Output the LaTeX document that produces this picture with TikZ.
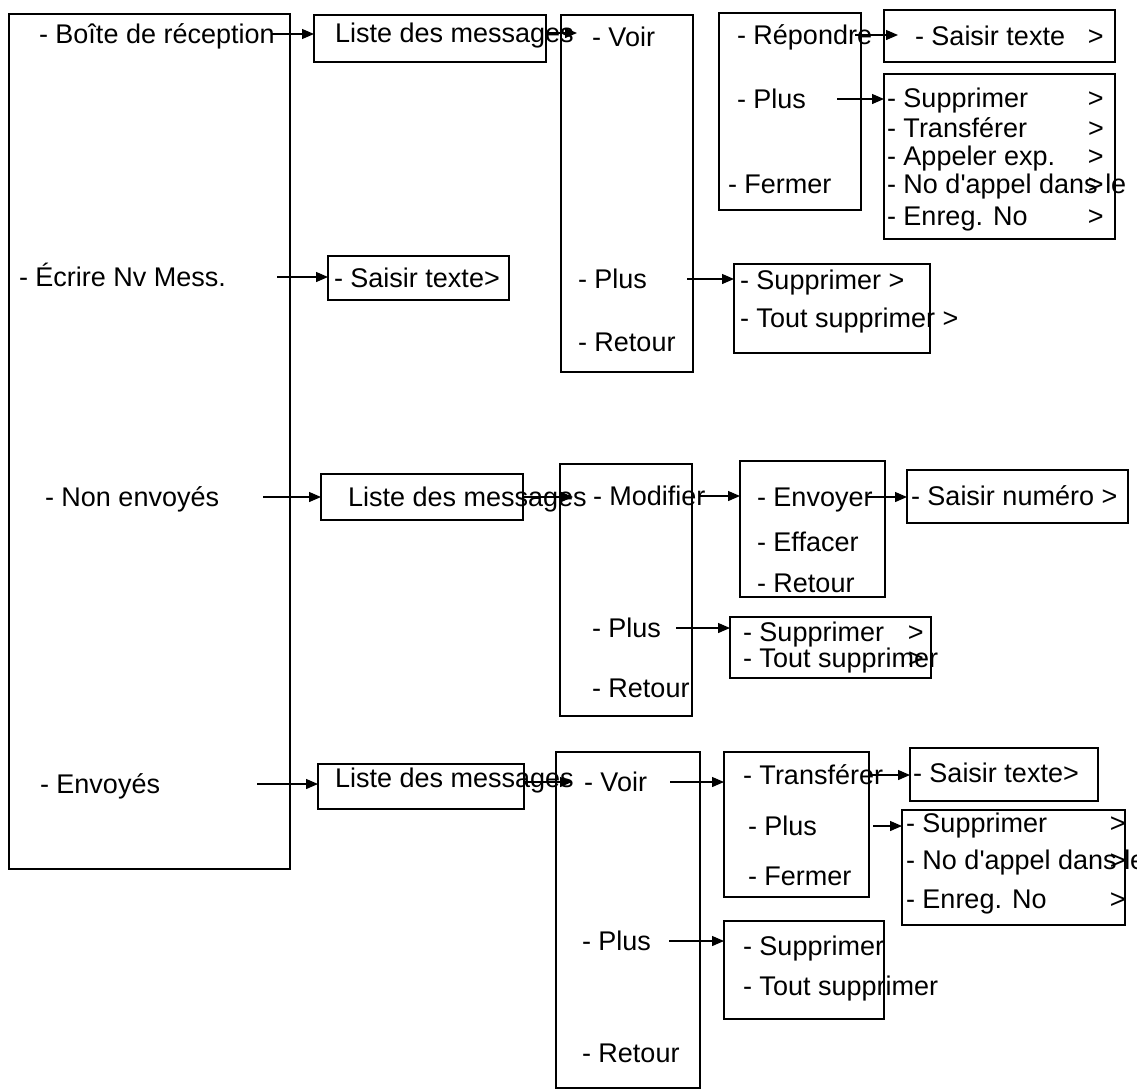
\documentclass[tikz,border=0pt]{standalone}
\usepackage{fontspec}
\setmainfont{Liberation Sans}[Ligatures=TeXOff]
\usetikzlibrary{arrows.meta}
\tikzset{
  box/.style={draw, line width=2pt, inner sep=0pt, outer sep=0pt, rectangle},
  txt/.style={inner sep=0pt, outer sep=0pt, anchor=west, text height=19.4pt, text depth=0pt},
  arr/.style={line width=1.3pt, -{Triangle[length=12pt,width=10pt]}},
}
\newcommand\mybox[5]{\node[box,anchor=north west,minimum width=#4pt-#2pt,minimum height=#5pt-#3pt] (#1) at (#2,#3) {};}
\newcommand\tx[4]{\node[txt] (#1) at (#2,#3) {#4};}
\begin{document}
\begin{tikzpicture}[x=1pt,y=-1pt,font=\fontsize{27}{30}\selectfont]
\useasboundingbox (0,0) rectangle (1137,1090);
\fill[white] (0,0) rectangle (1137,1090);
% boxes
\mybox{A}{9}{14}{290}{869}
\mybox{L1}{314}{15}{546}{62}
\mybox{B1}{561}{15}{693}{372}
\mybox{C1}{719}{13}{861}{210}
\mybox{S1}{884}{10}{1115}{62}
\mybox{P1}{884}{74}{1115}{239}
\mybox{S2}{328}{256}{509}{300}
\mybox{D1}{734}{264}{930}{353}
\mybox{L2}{321}{474}{523}{520}
\mybox{B2}{560}{464}{692}{716}
\mybox{C2}{740}{461}{885}{597}
\mybox{S3}{907}{470}{1128}{523}
\mybox{D2}{730}{617}{931}{678}
\mybox{L3}{318}{764}{524}{809}
\mybox{B3}{556}{752}{700}{1088}
\mybox{C3}{724}{752}{869}{897}
\mybox{S4}{910}{748}{1098}{801}
\mybox{P3}{902}{810}{1125}{925}
\mybox{D3}{724}{921}{884}{1019}
% texts
\tx{tA1}{39}{34}{- Boîte de réception}
\tx{tA2}{19}{277}{- Écrire Nv Mess.}
\tx{tA3}{45}{497}{- Non envoyés}
\tx{tA4}{40}{784}{- Envoyés}
\tx{tL1}{335}{33}{Liste des messages}
\tx{tB1a}{592}{37}{- Voir}
\tx{tB1b}{578}{279}{- Plus}
\tx{tB1c}{578}{342}{- Retour}
\tx{tC1a}{737}{35}{- Répondre}
\tx{tC1b}{737}{99}{- Plus}
\tx{tC1c}{728}{184}{- Fermer}
\tx{tS1}{915}{36}{\makebox[173pt][l]{- Saisir texte}>}
\tx{tP1a}{887}{98}{\makebox[201pt][l]{- Supprimer}>}
\tx{tP1b}{887}{128}{\makebox[201pt][l]{- Transférer}>}
\tx{tP1c}{887}{156}{\makebox[201pt][l]{- Appeler exp.}>}
\tx{tP1d}{887}{184}{\makebox[201pt][l]{- No d'appel dans le}>}
\tx{tP1e}{887}{216}{\makebox[201pt][l]{- Enreg. No}>}
\tx{tS2}{334}{278}{- Saisir texte>}
\tx{tD1a}{740}{280}{- Supprimer >}
\tx{tD1b}{740}{318}{- Tout supprimer >}
\tx{tL2}{348}{497}{Liste des messages}
\tx{tB2a}{593}{496}{- Modifier}
\tx{tB2b}{592}{628}{- Plus}
\tx{tB2c}{592}{688}{- Retour}
\tx{tC2a}{757}{497}{- Envoyer}
\tx{tC2b}{757}{542}{- Effacer}
\tx{tC2c}{757}{583}{- Retour}
\tx{tS3}{911}{496}{- Saisir numéro >}
\tx{tD2a}{743}{632}{\makebox[165pt][l]{- Supprimer}>}
\tx{tD2b}{743}{658}{\makebox[165pt][l]{- Tout supprimer}>}
\tx{tL3}{335}{778}{Liste des messages}
\tx{tB3a}{584}{782}{- Voir}
\tx{tB3b}{582}{941}{- Plus}
\tx{tB3c}{582}{1053}{- Retour}
\tx{tC3a}{743}{775}{- Transférer}
\tx{tC3b}{748}{826}{- Plus}
\tx{tC3c}{748}{876}{- Fermer}
\tx{tS4}{913}{773}{- Saisir texte>}
\tx{tP3a}{906}{823}{\makebox[204pt][l]{- Supprimer}>}
\tx{tP3b}{906}{860}{\makebox[204pt][l]{- No d'appel dans le}>}
\tx{tP3c}{906}{899}{\makebox[204pt][l]{- Enreg. No}>}
\tx{tD3a}{743}{946}{- Supprimer}
\tx{tD3b}{743}{986}{- Tout supprimer}
% arrows
\draw[arr] ([xshift=-3pt]tA1.east) -- (tA1.east -| L1.west);
\draw[arr] (tL1.east -| L1.east) -- ([xshift=16pt]tL1.east -| B1.west);
\draw[arr] ([xshift=51pt]tA2.east) -- (tA2.east -| S2.west);
\draw[arr] ([xshift=40pt]tB1b.east) -- (tB1b.east -| D1.west);
\draw[arr] ([xshift=-17pt]tC1a.east) -- ([xshift=14pt]tC1a.east -| S1.west);
\draw[arr] ([xshift=31pt]tC1b.east) -- (tC1b.east -| P1.west);
\draw[arr] ([xshift=44pt]tA3.east) -- (tA3.east -| L2.west);
\draw[arr] (tL2.east -| L2.east) -- ([xshift=13pt]tL2.east -| B2.west);
\draw[arr] ([xshift=-7pt]tB2a.east) -- (tB2a.east -| C2.west);
\draw[arr] ([xshift=-6pt]tC2a.east) -- (tC2a.east -| S3.west);
\draw[arr] ([xshift=15pt]tB2b.east) -- (tB2b.east -| D2.west);
\draw[arr] ([xshift=97pt]tA4.east) -- (tA4.east -| L3.west);
\draw[arr] (tB3a.east -| L3.east) -- ([xshift=16pt]tB3a.east -| B3.west);
\draw[arr] ([xshift=23pt]tB3a.east) -- (tB3a.east -| C3.west);
\draw[arr] ([xshift=-13pt]tC3a.east) -- (tC3a.east -| S4.west);
\draw[arr] ([xshift=56pt]tC3b.east) -- (tC3b.east -| P3.west);
\draw[arr] ([xshift=18pt]tB3b.east) -- (tB3b.east -| D3.west);
\end{tikzpicture}
\end{document}
